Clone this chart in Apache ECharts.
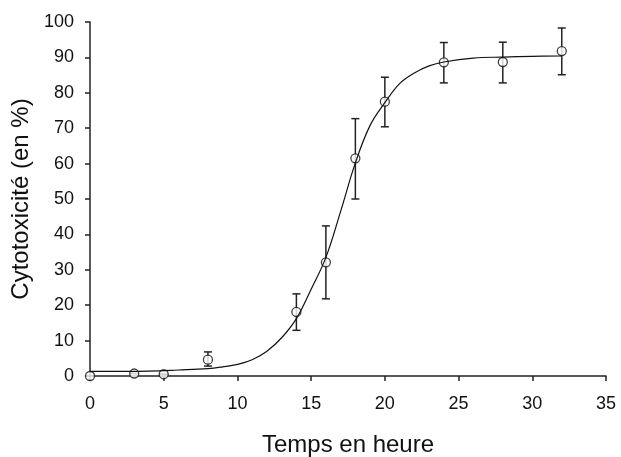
<!DOCTYPE html>
<html>
<head>
<meta charset="utf-8">
<script src="https://cdn.jsdelivr.net/npm/echarts@6/dist/echarts.min.js"></script>
<style>
  html, body { margin: 0; padding: 0; background: #fff; }
  #chart { width: 621px; height: 457px; }
</style>
</head>
<body>
<div id="chart"></div>
<script>
// mesures (temps en heure, cytotoxicité moyenne, borne basse, borne haute)
var temps = [0, 3, 5, 8, 14, 16, 18, 20, 24, 28, 32];
var cytotox = [0, 0.7, 0.5, 4.6, 18.1, 32.1, 61.5, 77.5, 88.6, 88.7, 91.8];
var errBas = [0, 0.7, 0.5, 2.8, 12.9, 21.8, 50.0, 70.4, 82.8, 82.8, 85.1];
var errHaut = [0, 0.7, 0.5, 6.8, 23.2, 42.4, 72.7, 84.4, 94.2, 94.3, 98.3];

// courbe ajustée
var courbeX = [0, 4, 6, 8, 9, 10, 11, 12, 13, 14, 15, 16, 17, 18, 19, 20, 21, 22, 23, 24, 26, 28, 30, 32];
var courbeY = [1.3, 1.4, 1.7, 2.1, 2.6, 3.3, 4.6, 7.0, 10.8, 16.2, 24.5, 33.5, 46.5, 60.2, 70.8, 77.2, 82.6, 85.6, 87.6, 88.7, 89.8, 90.1, 90.3, 90.4];

var xTicks = [0, 5, 10, 15, 20, 25, 30, 35];
var yTicks = [0, 10, 20, 30, 40, 50, 60, 70, 80, 90, 100];

var myChart = echarts.init(document.getElementById('chart'));

var points = temps.map(function (t, i) { return [t, cytotox[i]]; });
var barres = temps.map(function (t, i) { return [t, errBas[i], errHaut[i]]; });
var courbe = courbeX.map(function (t, i) { return [t, courbeY[i]]; });

var axisColor = '#222';
var font = 'Liberation Sans, Arial, sans-serif';

myChart.setOption({
    animation: false,
    grid: { left: 90, right: 15, top: 22, bottom: 81, containLabel: false, outerBoundsMode: 'none' },
    xAxis: {
        type: 'value',
        min: xTicks[0],
        max: xTicks[xTicks.length - 1],
        interval: 5,
        name: 'Temps en heure',
        nameLocation: 'middle',
        nameGap: 57,
        nameTextStyle: { fontFamily: font, fontSize: 24, color: '#111' },
        axisLine: { show: true, onZero: false, lineStyle: { color: axisColor, width: 1.5 } },
        axisTick: { show: true, length: 5, lineStyle: { color: axisColor, width: 1.5 } },
        axisLabel: { fontFamily: font, fontSize: 18, color: '#111', margin: 19 },
        splitLine: { show: false }
    },
    yAxis: {
        type: 'value',
        min: yTicks[0],
        max: yTicks[yTicks.length - 1],
        interval: 10,
        name: 'Cytotoxicité (en %)',
        nameLocation: 'middle',
        nameGap: 52,
        nameTextStyle: { fontFamily: font, fontSize: 24, color: '#111' },
        axisLine: { show: true, onZero: false, lineStyle: { color: axisColor, width: 1.5 } },
        axisTick: { show: true, length: 5, lineStyle: { color: axisColor, width: 1.5 } },
        axisLabel: { fontFamily: font, fontSize: 18, color: '#111', margin: 16 },
        splitLine: { show: false }
    },
    series: [
        {
            name: 'erreur',
            type: 'custom',
            z: 2,
            data: barres,
            renderItem: function (params, api) {
                var x = api.value(0);
                var bas = api.coord([x, api.value(1)]);
                var haut = api.coord([x, api.value(2)]);
                var demi = 4;
                var style = { stroke: '#222', lineWidth: 1.5 };
                return {
                    type: 'group',
                    children: [
                        { type: 'line', shape: { x1: bas[0], y1: bas[1], x2: haut[0], y2: haut[1] }, style: style },
                        { type: 'line', shape: { x1: bas[0] - demi, y1: bas[1], x2: bas[0] + demi, y2: bas[1] }, style: style },
                        { type: 'line', shape: { x1: haut[0] - demi, y1: haut[1], x2: haut[0] + demi, y2: haut[1] }, style: style }
                    ]
                };
            }
        },
        {
            name: 'mesures',
            type: 'scatter',
            z: 3,
            data: points,
            symbol: 'circle',
            symbolSize: 9,
            itemStyle: { color: '#fff', borderColor: '#111', borderWidth: 1.3 }
        },
        {
            name: 'ajustement',
            type: 'line',
            z: 4,
            data: courbe,
            smooth: 0.4,
            showSymbol: false,
            lineStyle: { color: '#111', width: 1.2 }
        }
    ]
});
</script>
</body>
</html>
